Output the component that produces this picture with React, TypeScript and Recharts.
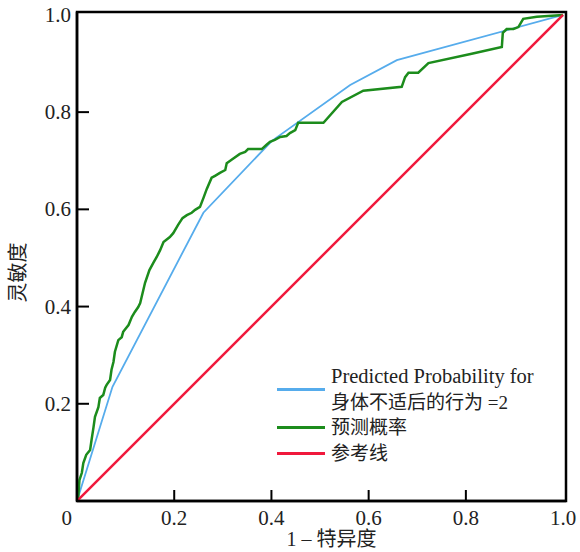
import React from 'react';
import { LineChart, Line, XAxis, YAxis, Legend, ReferenceArea } from 'recharts';

// ROC points (false positive rate, true positive rate)
const blueFpr = [0, 0.073, 0.26, 0.401, 0.562, 0.658, 1];
const blueTpr = [0, 0.235, 0.593, 0.741, 0.856, 0.907, 1];

const greenFpr = [
  0.002, 0.005, 0.01, 0.013, 0.019, 0.027, 0.03, 0.034, 0.037, 0.044, 0.047, 0.054, 0.058, 0.061,
  0.068, 0.071, 0.075, 0.078, 0.085, 0.092, 0.095, 0.106, 0.113, 0.119, 0.126, 0.13, 0.14, 0.149,
  0.157, 0.164, 0.171, 0.178, 0.191, 0.198, 0.208, 0.217, 0.226, 0.236, 0.243, 0.253, 0.26, 0.267,
  0.277, 0.284, 0.294, 0.305, 0.308, 0.318, 0.335, 0.346, 0.352, 0.38, 0.39, 0.397, 0.407, 0.418,
  0.431, 0.438, 0.449, 0.455, 0.507, 0.545, 0.589, 0.668, 0.675, 0.682, 0.702, 0.723, 0.812, 0.874,
  0.876, 0.884, 0.898, 0.908, 0.918, 0.946, 1,
];
const greenTpr = [
  0, 0.043, 0.058, 0.078, 0.095, 0.105, 0.126, 0.152, 0.173, 0.193, 0.212, 0.218, 0.233, 0.239,
  0.249, 0.27, 0.286, 0.307, 0.331, 0.337, 0.348, 0.362, 0.379, 0.389, 0.399, 0.407, 0.449, 0.475,
  0.49, 0.502, 0.516, 0.533, 0.543, 0.551, 0.568, 0.582, 0.588, 0.593, 0.599, 0.605, 0.623, 0.642,
  0.665, 0.669, 0.675, 0.681, 0.695, 0.702, 0.714, 0.718, 0.724, 0.724, 0.733, 0.739, 0.743, 0.749,
  0.751, 0.757, 0.763, 0.778, 0.778, 0.821, 0.844, 0.852, 0.872, 0.881, 0.881, 0.901, 0.92, 0.934,
  0.963, 0.971, 0.971, 0.975, 0.992, 0.996, 1,
];

const refFpr = [0, 1];
const refTpr = [0, 1];

const xTicks = [0, 0.2, 0.4, 0.6, 0.8, 1.0];
const xTickLabels = ['0', '0.2', '0.4', '0.6', '0.8', '1.0'];
const yTicks = [0.2, 0.4, 0.6, 0.8, 1.0];
const yTickLabels = ['0.2', '0.4', '0.6', '0.8', '1.0'];

const seriesNames = ['Predicted Probability for\n身体不适后的行为 =2', '预测概率', '参考线'];
const xTitle = '1 – 特异度';
const yTitle = '灵敏度';

const colors = ['#56acec', '#1c8c1c', '#f0183c'];
const font = "'Liberation Serif', 'Noto Sans CJK SC', serif";
const hasCjk = (s: string) => /[\u4e00-\u9fff]/.test(s);

const toPoints = (xs: number[], ys: number[]) => xs.map((x, i) => ({ x, y: ys[i] }));

const XTick = (props: any) => {
  const { x, y, payload } = props;
  const axisY = y - 10;
  const v = payload.value;
  const label = xTickLabels[xTicks.indexOf(v)];
  const first = v === 0;
  const last = v === 1;
  return (
    <g>
      {!first && !last && <line x1={x} x2={x} y1={axisY} y2={axisY - 11} stroke="#000" strokeWidth={2} />}
      <text x={first ? x - 5 : x} y={axisY + 24} textAnchor={first ? 'end' : 'middle'} fontSize={21} fill="#222" fontFamily={font}>
        {label}
      </text>
    </g>
  );
};

const YTick = (props: any) => {
  const { x, y, payload } = props;
  const axisX = x + 6;
  const v = payload.value;
  const label = yTickLabels[yTicks.indexOf(v)];
  return (
    <g>
      {v !== 1 && <line x1={axisX} x2={axisX + 12} y1={y} y2={y} stroke="#000" strokeWidth={2} />}
      <text x={x} y={y + 7} textAnchor="end" fontSize={21} fill="#222" fontFamily={font}>
        {label}
      </text>
    </g>
  );
};

const LegendBox = () => (
  <div style={{ fontFamily: font, color: '#222', lineHeight: '25.5px' }}>
    {seriesNames.map((name, i) => (
      <div key={i} style={{ display: 'flex', alignItems: 'center' }}>
        <div style={{ width: 48, height: 3, background: colors[i], marginRight: 6, flex: 'none' }} />
        <div>
          {name.split('\n').map((l) => (
            <div key={l} style={{ whiteSpace: 'nowrap', fontSize: hasCjk(l) ? 19 : 20.5 }}>{l}</div>
          ))}
        </div>
      </div>
    ))}
  </div>
);

export default function App() {
  return (
    <div style={{ position: 'absolute', left: 0, top: 0, background: '#fff' }}>
      <LineChart width={580} height={552} margin={{ top: 12, right: 14, left: 0, bottom: 0 }}>
        <XAxis
          type="number"
          dataKey="x"
          domain={[0, 1.006]}
          ticks={xTicks}
          tick={<XTick />}
          tickLine={false}
          tickSize={0}
          tickMargin={10}
          height={51}
          stroke="#000"
          strokeWidth={2.5}
          allowDataOverflow
          label={{
            content: (p: any) => (
              <text
                x={p.viewBox.x + p.viewBox.width / 2 + 10}
                y={p.viewBox.y + 45}
                textAnchor="middle"
                fontSize={20}
                fill="#222"
                fontFamily={font}
              >
                {xTitle}
              </text>
            ),
          }}
        />
        <YAxis
          type="number"
          dataKey="y"
          domain={[0, 1.006]}
          ticks={yTicks}
          tick={<YTick />}
          tickLine={false}
          tickSize={0}
          tickMargin={6}
          width={77}
          stroke="#000"
          strokeWidth={2.5}
          allowDataOverflow
          label={{
            content: (p: any) => {
              const cx = 18;
              const cy = p.viewBox.y + p.viewBox.height / 2 + 16;
              return (
                <text
                  x={cx}
                  y={cy}
                  transform={`rotate(-90 ${cx} ${cy})`}
                  textAnchor="middle"
                  dominantBaseline="central"
                  fontSize={20}
                  fill="#222"
                  fontFamily={font}
                >
                  {yTitle}
                </text>
              );
            },
          }}
        />
        <ReferenceArea x1={0} x2={1.006} y1={0} y2={1.006} fill="none" stroke="#000" strokeWidth={2.5} ifOverflow="visible" />
        <Line data={toPoints(blueFpr, blueTpr)} dataKey="y" name={seriesNames[0]} type="linear" stroke={colors[0]} strokeWidth={1.8} dot={false} isAnimationActive={false} />
        <Line data={toPoints(greenFpr, greenTpr)} dataKey="y" name={seriesNames[1]} type="linear" stroke={colors[1]} strokeWidth={2.5} dot={false} isAnimationActive={false} />
        <Line data={toPoints(refFpr, refTpr)} dataKey="y" name={seriesNames[2]} type="linear" stroke={colors[2]} strokeWidth={2.5} dot={false} isAnimationActive={false} />
        <Legend
          layout="vertical"
          align="center"
          verticalAlign="middle"
          content={<LegendBox />}
          wrapperStyle={{ left: 277, top: 364, width: 290 }}
        />
      </LineChart>
    </div>
  );
}
